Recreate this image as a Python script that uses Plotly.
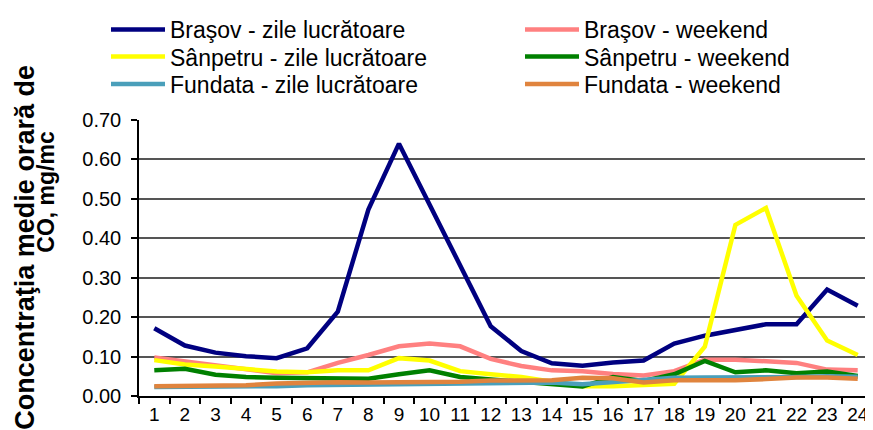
import plotly.graph_objects as go

hours = ["1", "2", "3", "4", "5", "6", "7", "8", "9", "10", "11", "12",
         "13", "14", "15", "16", "17", "18", "19", "20", "21", "22", "23", "24"]

brasov_zile = [0.172, 0.128, 0.110, 0.101, 0.096, 0.121, 0.214, 0.473, 0.640, 0.487,
               0.335, 0.177, 0.114, 0.083, 0.077, 0.085, 0.090, 0.133, 0.153, 0.168,
               0.182, 0.182, 0.270, 0.229]
brasov_weekend = [0.098, 0.088, 0.077, 0.066, 0.058, 0.060, 0.084, 0.104, 0.126, 0.133,
                  0.126, 0.094, 0.076, 0.065, 0.063, 0.056, 0.052, 0.063, 0.092, 0.092,
                  0.087, 0.084, 0.067, 0.065]
sanpetru_zile = [0.091, 0.080, 0.075, 0.069, 0.062, 0.060, 0.065, 0.065, 0.096, 0.090,
                 0.063, 0.055, 0.048, 0.036, 0.025, 0.025, 0.027, 0.031, 0.125, 0.434,
                 0.477, 0.254, 0.141, 0.104]
sanpetru_weekend = [0.065, 0.069, 0.054, 0.048, 0.046, 0.046, 0.044, 0.044, 0.055, 0.065,
                    0.048, 0.042, 0.034, 0.030, 0.024, 0.048, 0.038, 0.055, 0.089, 0.060,
                    0.065, 0.058, 0.062, 0.051]
fundata_zile = [0.023, 0.023, 0.024, 0.024, 0.025, 0.027, 0.028, 0.029, 0.030, 0.030,
                0.031, 0.033, 0.034, 0.034, 0.030, 0.036, 0.042, 0.046, 0.047, 0.047,
                0.048, 0.048, 0.050, 0.049]
fundata_weekend = [0.025, 0.025, 0.026, 0.027, 0.032, 0.034, 0.035, 0.034, 0.034, 0.034,
                   0.036, 0.039, 0.040, 0.040, 0.046, 0.045, 0.034, 0.040, 0.040, 0.040,
                   0.043, 0.047, 0.047, 0.044]

series = [
    ("Braşov - zile lucrătoare", brasov_zile, "#000080"),
    ("Braşov - weekend", brasov_weekend, "#FF8080"),
    ("Sânpetru - zile lucrătoare", sanpetru_zile, "#FFFF00"),
    ("Sânpetru - weekend", sanpetru_weekend, "#008000"),
    ("Fundata - zile lucrătoare", fundata_zile, "#4A9FBA"),
    ("Fundata - weekend", fundata_weekend, "#E0843E"),
]

FONT = "Liberation Sans, Arial, sans-serif"

# The page body has an 8px default margin, so the figure is drawn 8px
# smaller and all screen positions are converted to figure positions.
OFF = 8
W, H = 873 - OFF, 430 - OFF
PLOT_LEFT, PLOT_TOP, PLOT_BOTTOM = 139, 115, 396   # screen pixels
L = PLOT_LEFT - OFF
T = PLOT_TOP - OFF
B = H - (PLOT_BOTTOM - OFF)
R = 0
pw = W - L - R
ph = H - T - B

def px_x(x):
    return (x - OFF - L) / pw

def px_y(y):
    return (H - B - (y - OFF)) / ph

# legend slot (left px, middle px, screen) for each series: two columns, three rows
legend_slots = [(106, 22.5), (520, 22.5), (106, 50.5), (520, 50.5), (106, 78.5), (520, 78.5)]

fig = go.Figure()
legend_layout = {}
for i, (name, vals, color) in enumerate(series):
    key = "legend" if i == 0 else "legend%d" % (i + 1)
    fig.add_trace(go.Scatter(
        x=hours, y=vals, name=name, mode="lines",
        line=dict(color=color, width=4.5),
        legend=key, showlegend=True,
    ))
    lx, ly = legend_slots[i]
    legend_layout[key] = dict(
        x=px_x(lx), y=px_y(ly), xanchor="left", yanchor="middle",
        orientation="v",
        font=dict(family=FONT, size=23, color="#000000"),
        itemwidth=54, bgcolor="rgba(0,0,0,0)", borderwidth=0,
    )

fig.update_layout(
    width=W, height=H, showlegend=True,
    margin=dict(l=L, r=R, t=T, b=B, pad=0),
    paper_bgcolor="white", plot_bgcolor="white",
    font=dict(family=FONT, size=20, color="#000000"),
    xaxis=dict(
        type="category", range=[-0.5, 23.5],
        tickson="boundaries", ticks="outside", ticklen=6,
        tickwidth=1.5, tickcolor="#000000", tickangle=0, automargin=False,
        showline=True, linecolor="#000000", linewidth=1.5,
        showgrid=False, zeroline=False,
        tickfont=dict(family=FONT, size=19, color="#000000"),
    ),
    yaxis=dict(
        range=[0, 0.7], dtick=0.1, tickformat=".2f", automargin=False,
        ticks="outside", ticklen=6, tickwidth=1.5, tickcolor="#000000",
        ticklabelstandoff=6,
        showline=True, linecolor="#000000", linewidth=1.5,
        showgrid=True, gridcolor="#555555", gridwidth=1.6,
        zeroline=False,
        tickfont=dict(family=FONT, size=20, color="#000000"),
    ),
    annotations=[
        dict(text="<b>Concentraţia medie orară de</b>", textangle=-90,
             xref="paper", yref="paper", x=px_x(25), y=px_y(245),
             xanchor="center", yanchor="middle", showarrow=False,
             font=dict(family=FONT, size=27, color="#000000")),
        dict(text="<b>CO, mg/mc</b>", textangle=-90,
             xref="paper", yref="paper", x=px_x(46), y=px_y(188),
             xanchor="center", yanchor="middle", showarrow=False,
             font=dict(family=FONT, size=23, color="#000000")),
    ],
)
fig.update_layout(**legend_layout)

fig.write_html("out.html")
